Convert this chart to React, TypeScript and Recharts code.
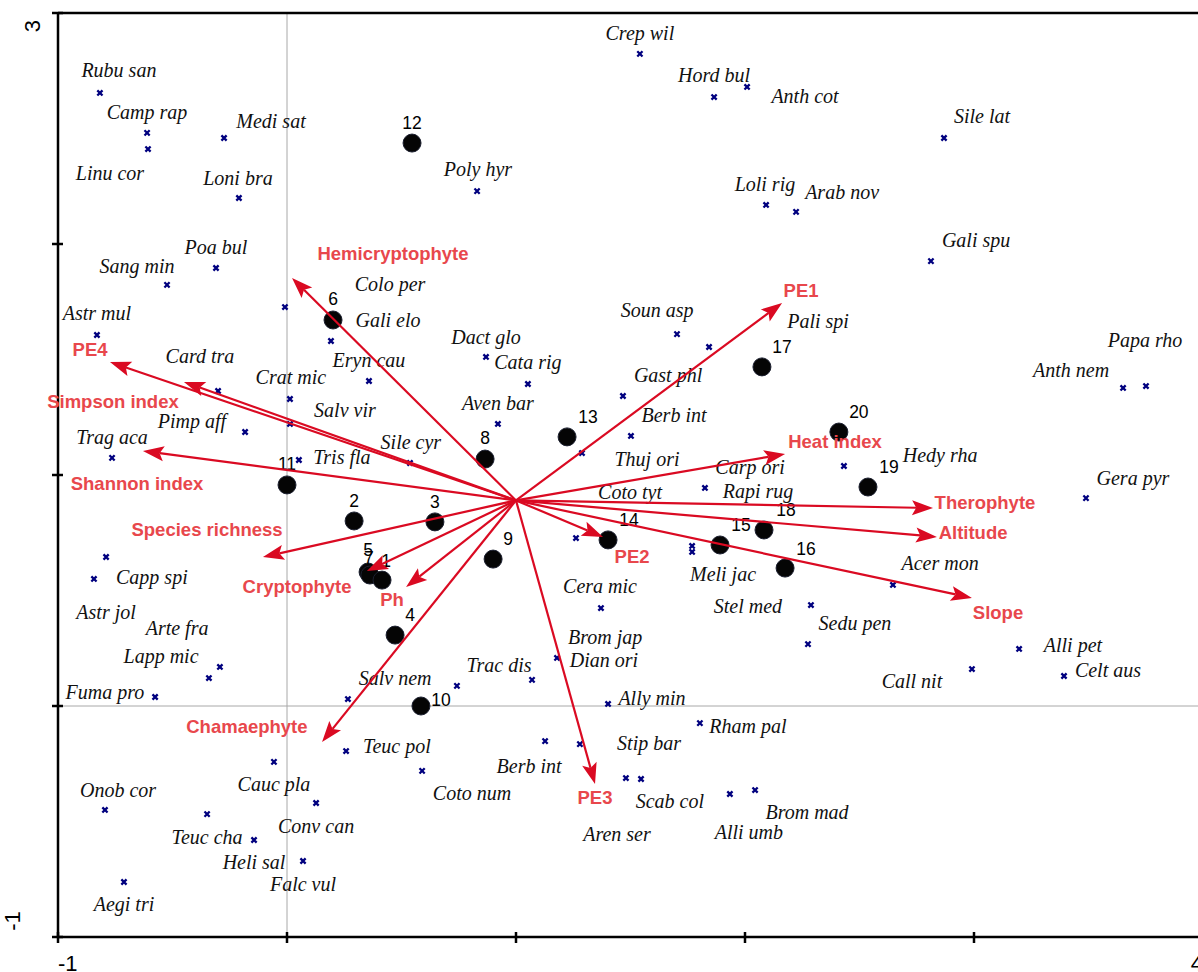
import React from 'react';
import { ReferenceLine, Scatter, ScatterChart, XAxis, YAxis } from 'recharts';

const X_TICKS = [-1, 0, 1, 2, 3, 4];
const Y_TICKS = [-1, 0, 1, 2, 3];

// environmental vectors: all start at the same origin
const VECTOR_ORIGIN = { x: 1.0, y: 0.89 };
const vectorNames = [
  'Hemicryptophyte', 'PE1', 'PE4', 'Simpson index', 'Shannon index', 'Species richness', 'Cryptophyte', 'Ph',
  'Chamaephyte', 'PE3', 'PE2', 'Slope', 'Altitude', 'Therophyte', 'Heat index',
];
const vectorTipX = [0.022, 2.162, -0.773, -0.45, -0.629, -0.105, 0.349, 0.52, 0.153, 1.345, 1.38, 2.991, 2.838, 2.821, 2.175];
const vectorTipY = [1.853, 1.745, 1.489, 1.403, 1.104, 0.645, 0.584, 0.515, -0.156, -0.338, 0.732, 0.468, 0.732, 0.857, 1.091];
const vectorLabelX = [0.463, 2.245, -0.86, -0.76, -0.655, -0.349, 0.044, 0.459, -0.175, 1.345, 1.507, 3.105, 2.996, 3.048, 2.393];
const vectorLabelY = [1.957, 1.797, 1.545, 1.32, 0.965, 0.762, 0.519, 0.459, -0.087, -0.398, 0.645, 0.403, 0.753, 0.879, 1.143];

// sites (relevés)
const siteIds = ['12', '6', '17', '20', '13', '8', '11', '19', '2', '3', '14', '18', '15', '9', '16', '5', '7', '1', '4', '10'];
const siteX = [0.546, 0.201, 2.074, 2.41, 1.223, 0.865, 0.0, 2.537, 0.293, 0.646, 1.402, 2.083, 1.891, 0.9, 2.175, 0.354, 0.362, 0.415, 0.472, 0.585];
const siteY = [2.437, 1.671, 1.468, 1.186, 1.165, 1.069, 0.957, 0.948, 0.801, 0.797, 0.719, 0.762, 0.697, 0.636, 0.597, 0.58, 0.567, 0.545, 0.307, 0.0];
const siteLabelShift: Record<string, [number, number]> = {
  '12': [0, -20], '6': [0, -21], '17': [20, -20], '20': [20, -20], '13': [21, -20], '8': [0, -21], '11': [0, -21],
  '19': [21, -20], '2': [0, -20], '3': [0, -20], '14': [21, -20], '18': [22, -20], '15': [21, -20], '9': [15, -20],
  '16': [21, -19], '5': [0, -22], '7': [-1, -17], '1': [4, -19], '4': [15, -20], '10': [20, -6],
};

// species scores
const speciesX = [
  -0.817, -0.611, -0.607, -0.275, -0.21, -0.31, -0.524, -0.83, -0.009, 0.192, 0.358, 0.013, 0.013, 0.052, 0.537,
  -0.301, -0.183, -0.764, -0.79, -0.843, -0.293, -0.341, -0.576, 0.869, 1.052, 0.921, 0.83, 1.541, 1.865, 2.009,
  2.092, 2.223, 2.869, 2.812, 1.703, 1.843, 1.467, 1.502, 1.288, 1.825, 1.262, 1.769, 1.769, 2.288, 2.275,
  2.646, 2.432, 3.651, 3.751, 3.489, 3.197, 3.393, 2.991, 1.371, 1.179, 1.07, 0.266, 0.742, 1.402, 1.803,
  1.127, 1.279, 0.258, 0.59, 1.48, 1.546, 1.934, 2.044, -0.057, 0.127, -0.795, -0.349, -0.144, 0.07, -0.712,
];
const speciesY = [
  2.654, 2.481, 2.411, 2.459, 2.199, 1.896, 1.823, 1.606, 1.727, 1.58, 1.407, 1.329, 1.221, 1.065, 1.052,
  1.364, 1.186, 1.074, 0.645, 0.55, 0.169, 0.121, 0.039, 1.511, 1.394, 1.221, 2.229, 2.823, 2.636, 2.68,
  2.169, 2.139, 2.459, 1.926, 1.61, 1.554, 1.342, 1.169, 1.095, 0.944, 0.727, 0.693, 0.667, 0.437, 0.268,
  0.524, 1.039, 1.377, 1.385, 0.9, 0.247, 0.13, 0.16, 0.424, 0.208, 0.113, 0.03, 0.087, 0.009, -0.074,
  -0.152, -0.165, -0.195, -0.281, -0.312, -0.316, -0.381, -0.364, -0.242, -0.42, -0.45, -0.468, -0.58, -0.671, -0.762,
];

const speciesNames = [
  'Rubu san', 'Camp rap', 'Linu cor', 'Medi sat', 'Loni bra', 'Poa bul', 'Sang min', 'Astr mul', 'Colo per', 'Gali elo',
  'Eryn cau', 'Crat mic', 'Salv vir', 'Tris fla', 'Sile cyr', 'Card tra', 'Pimp aff', 'Trag aca', 'Capp spi', 'Astr jol',
  'Arte fra', 'Lapp mic', 'Fuma pro', 'Dact glo', 'Cata rig', 'Aven bar', 'Poly hyr', 'Crep wil', 'Hord bul', 'Anth cot',
  'Loli rig', 'Arab nov', 'Sile lat', 'Gali spu', 'Soun asp', 'Pali spi', 'Gast phl', 'Berb int', 'Thuj ori', 'Carp ori',
  'Rapi rug', 'Coto tyt', 'Meli jac', 'Stel med', 'Sedu pen', 'Acer mon', 'Hedy rha', 'Anth nem', 'Papa rho', 'Gera pyr',
  'Alli pet', 'Celt aus', 'Call nit', 'Cera mic', 'Brom jap', 'Dian ori', 'Trac dis', 'Salv nem', 'Ally min', 'Rham pal',
  'Stip bar', 'Berb int', 'Teuc pol', 'Coto num', 'Scab col', 'Aren ser', 'Alli umb', 'Brom mad', 'Cauc pla', 'Conv can',
  'Onob cor', 'Teuc cha', 'Heli sal', 'Falc vul', 'Aegi tri',
];
const speciesLabelX = [
  -0.734, -0.611, -0.773, -0.07, -0.214, -0.31, -0.655, -0.83, 0.45, 0.441,
  0.358, 0.017, 0.253, 0.24, 0.541, -0.38, -0.415, -0.764, -0.59, -0.79,
  -0.48, -0.55, -0.795, 0.869, 1.052, 0.921, 0.834, 1.541, 1.865, 2.262,
  2.087, 2.424, 3.035, 3.009, 1.616, 2.319, 1.664, 1.69, 1.572, 2.022,
  2.057, 1.498, 1.904, 2.013, 2.48, 2.852, 2.852, 3.424, 3.747, 3.694,
  3.432, 3.585, 2.729, 1.367, 1.389, 1.384, 0.926, 0.472, 1.594, 2.013,
  1.581, 1.057, 0.48, 0.808, 1.672, 1.441, 2.017, 2.271, -0.057, 0.127,
  -0.738, -0.349, -0.144, 0.07, -0.712,
];
const speciesLabelY = [
  2.753, 2.571, 2.307, 2.532, 2.286, 1.987, 1.905, 1.701, 1.827, 1.671,
  1.498, 1.424, 1.281, 1.078, 1.143, 1.515, 1.234, 1.165, 0.558, 0.407,
  0.338, 0.216, 0.061, 1.597, 1.489, 1.312, 2.325, 2.913, 2.732, 2.641,
  2.26, 2.225, 2.554, 2.017, 1.714, 1.667, 1.433, 1.26, 1.069, 1.035,
  0.931, 0.926, 0.571, 0.433, 0.359, 0.619, 1.087, 1.455, 1.584, 0.987,
  0.264, 0.156, 0.108, 0.519, 0.299, 0.199, 0.177, 0.121, 0.035, -0.087,
  -0.16, -0.26, -0.173, -0.377, -0.411, -0.554, -0.545, -0.459, -0.338, -0.519,
  -0.364, -0.567, -0.675, -0.771, -0.857,
];

const ARROW_RED = '#DA0A22';
const LABEL_RED = '#E8474C';
const SPECIES_BLUE = '#00007F';

const speciesPoints = speciesX.map((x, i) => ({ x, y: speciesY[i] }));
const speciesLabels = speciesNames.map((name, i) => ({ x: speciesLabelX[i], y: speciesLabelY[i], name }));
const sites = siteIds.map((id, i) => ({ x: siteX[i], y: siteY[i], id }));
const vectorSegments = vectorNames.flatMap((name, i) => [
  { x: VECTOR_ORIGIN.x, y: VECTOR_ORIGIN.y, name },
  { x: vectorTipX[i], y: vectorTipY[i], name },
]);
const vectorLabels = vectorNames.map((name, i) => ({ x: vectorLabelX[i], y: vectorLabelY[i], name }));

function SpeciesMark({ cx, cy }: any) {
  const s = 2.6;
  return (
    <path
      d={`M${cx - s},${cy - s}L${cx + s},${cy + s}M${cx - s},${cy + s}L${cx + s},${cy - s}`}
      stroke={SPECIES_BLUE}
      strokeWidth={2.3}
    />
  );
}

function SpeciesLabel({ cx, cy, payload }: any) {
  return (
    <text x={cx} y={cy} dy="0.35em" textAnchor="middle" fontFamily="'Liberation Serif', serif" fontStyle="italic" fontSize={20} fill="#111">
      {payload.name}
    </text>
  );
}

function SiteMark({ cx, cy, payload }: any) {
  const [dx, dy] = siteLabelShift[payload.id] || [0, -20];
  return (
    <g>
      <circle cx={cx} cy={cy} r={9} fill="#050505" stroke="#1c2030" strokeWidth={1} />
      <text x={cx + dx} y={cy + dy} dy="0.35em" textAnchor="middle" fontFamily="'Liberation Sans', Arial, sans-serif" fontSize={17.5} fill="#000">
        {payload.id}
      </text>
    </g>
  );
}

function VectorArrows(props: any) {
  const pts: { x: number; y: number }[] = props.points || [];
  const out: React.ReactNode[] = [];
  for (let i = 0; i + 1 < pts.length; i += 2) {
    const a = pts[i];
    const b = pts[i + 1];
    const len = Math.hypot(b.x - a.x, b.y - a.y);
    const ux = (b.x - a.x) / len;
    const uy = (b.y - a.y) / len;
    const head = 21;
    const half = 7.5;
    const bx = b.x - ux * head;
    const by = b.y - uy * head;
    const nx = b.x - ux * head * 0.8;
    const ny = b.y - uy * head * 0.8;
    out.push(
      <g key={i}>
        <line x1={a.x} y1={a.y} x2={nx} y2={ny} stroke={ARROW_RED} strokeWidth={2.2} />
        <polygon
          points={`${b.x},${b.y} ${bx - uy * half},${by + ux * half} ${nx},${ny} ${bx + uy * half},${by - ux * half}`}
          fill={ARROW_RED}
        />
      </g>,
    );
  }
  return <g>{out}</g>;
}

function VectorLabel({ cx, cy, payload }: any) {
  return (
    <text x={cx} y={cy} dy="0.35em" textAnchor="middle" fontFamily="'Liberation Sans', Arial, sans-serif" fontWeight="bold" fontSize={18.5} fill={LABEL_RED}>
      {payload.name}
    </text>
  );
}

const Empty = () => <g />;

function XTick({ x, y, payload }: any) {
  const v = payload.value;
  return (
    <g>
      <line x1={x} y1={y - 5} x2={x} y2={y + 6} stroke="#000" strokeWidth={2.5} />
      {v === -1 && (
        <text x={x} y={y + 26} dy="0.35em" textAnchor="start" fontFamily="'Liberation Sans', Arial, sans-serif" fontSize={22} fill="#000">-1</text>
      )}
      {v === 4 && (
        <text x={x} y={y + 26} dy="0.35em" textAnchor="end" fontFamily="'Liberation Sans', Arial, sans-serif" fontSize={22} fill="#000">4</text>
      )}
    </g>
  );
}

function YTick({ x, y, payload }: any) {
  const v = payload.value;
  const label = v === 3 ? '3' : v === -1 ? '-1' : null;
  const cx = v === 3 ? x - 26 : x - 46;
  const cy = v === 3 ? y + 13 : y - 16;
  return (
    <g>
      <line x1={x - 6} y1={y} x2={x + 5} y2={y} stroke="#000" strokeWidth={2.5} />
      {label && (
        <text transform={`translate(${cx},${cy}) rotate(-90)`} dy="0.35em" textAnchor="middle" fontFamily="'Liberation Sans', Arial, sans-serif" fontSize={22} fill="#000">
          {label}
        </text>
      )}
    </g>
  );
}

export default function App() {
  return (
    <div style={{ position: 'absolute', left: 0, top: 0, width: 1198, height: 972, overflow: 'hidden', background: '#fff' }}>
      <ScatterChart width={1210} height={972} margin={{ top: 13, right: 7, bottom: 0, left: 0 }}>
        <XAxis
          type="number"
          dataKey="x"
          domain={[-1, 4]}
          ticks={X_TICKS}
          height={35}
          tickSize={0}
          tickMargin={0}
          tickLine={false}
          tick={<XTick />}
          axisLine={{ stroke: '#000', strokeWidth: 2.5 }}
        />
        <YAxis
          type="number"
          dataKey="y"
          domain={[-1, 3]}
          ticks={Y_TICKS}
          width={58}
          tickSize={0}
          tickMargin={0}
          tickLine={false}
          tick={<YTick />}
          axisLine={{ stroke: '#000', strokeWidth: 2.5 }}
        />
        <ReferenceLine x={0} stroke="#a8a8a8" strokeWidth={1} />
        <ReferenceLine y={0} stroke="#a8a8a8" strokeWidth={1} />
        <ReferenceLine y={3} stroke="#000" strokeWidth={2.5} />
        <ReferenceLine x={4} stroke="#000" strokeWidth={2.5} />
        <Scatter data={speciesPoints} shape={<SpeciesMark />} isAnimationActive={false} />
        <Scatter data={speciesLabels} shape={<SpeciesLabel />} isAnimationActive={false} />
        <Scatter data={sites} shape={<SiteMark />} isAnimationActive={false} />
        <Scatter data={vectorSegments} shape={<Empty />} line={VectorArrows} isAnimationActive={false} />
        <Scatter data={vectorLabels} shape={<VectorLabel />} isAnimationActive={false} />
      </ScatterChart>
    </div>
  );
}
